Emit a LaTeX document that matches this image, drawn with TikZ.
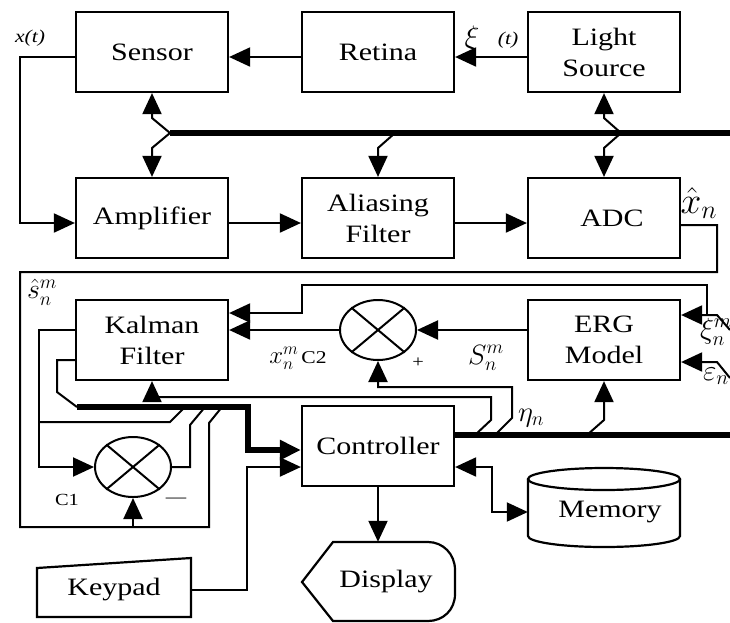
\documentclass[tikz,border=0pt]{standalone}
\usepackage{fontspec}
\setmainfont{Liberation Serif}[FakeStretch=1.2]
\usetikzlibrary{arrows.meta,shapes.geometric}

\begin{document}
\begin{tikzpicture}[x=1pt,y=-1pt,every node/.style={font=\fontsize{25}{31}\selectfont},
  blk/.style={draw,line width=2.2pt,minimum width=152pt,minimum height=80pt,inner sep=0pt,align=center},
  mult/.style={draw,ellipse,line width=2pt,minimum width=76pt,minimum height=60pt,inner sep=0pt},
  wire/.style={line width=2pt},
  arr/.style={wire,-{Triangle[length=21pt,width=19pt]}},
  bus/.style={line width=5.5pt},
  lbl/.style={font=\fontsize{17}{20}\selectfont},
  sym/.style={font=\fontsize{24}{28}\selectfont,inner sep=1pt}]
\useasboundingbox (0,0) rectangle (730,622);
% blocks
\node[blk] (sensor) at (152,52) {Sensor};
\node[blk] (retina) at (378,52) {Retina};
\node[blk] (light) at (604,52) {Light\\Source};
\node[blk] (amp) at (152,218) {Amplifier};
\node[blk] (alias) at (378,218) {Aliasing\\Filter};
\node[blk] (adc) at (604,218) {\hspace*{16pt}ADC};
\node[blk] (kalman) at (152,340) {Kalman\\Filter};
\node[blk] (erg) at (604,340) {ERG\\Model};
\node[blk] (ctrl) at (378,446) {Controller};
\node[mult] (c1) at (133,467) {};
\node[mult] (c2) at (378,330) {};
\node[minimum width=164pt,minimum height=56pt,inner sep=0pt] (memory) at (610,512) {Memory};
\node[minimum width=152pt,minimum height=80pt,inner sep=0pt] (display) at (386,582) {Display};
\node[minimum width=154pt,minimum height=50pt,inner sep=0pt] (keypad) at (114,590) {Keypad};
% odd shapes
\draw[line width=2.2pt] (604,479) ellipse [x radius=76, y radius=11];
\draw[line width=2.2pt] (528,479) -- (528,536) arc[start angle=180,end angle=0,x radius=76,y radius=11] -- (680,479);
\draw[line width=2.2pt] (302,582) -- (333,542) -- (428,542) .. controls (443,542) and (455,554) .. (455,570)
  -- (455,594) .. controls (455,610) and (443,621) .. (428,621) -- (333,621) -- cycle;
\draw[line width=2.2pt] (37,568) -- (191,558) -- (191,617) -- (37,617) -- cycle;
\foreach \m in {c1,c2}{
  \draw[wire] (\m.140) -- (\m.-40);
  \draw[wire] (\m.40) -- (\m.-140);
}
% bus junctions
\coordinate (busA) at (170,133);
\coordinate (busB) at (730,133);
\coordinate (jAl) at (395,133);
\coordinate (jLs) at (621,133);
\coordinate (busC) at (730,435);
\coordinate (jK) at (475,435);
\coordinate (jC2) at (495,435);
\coordinate (jE) at (587,435);
\coordinate (sBus) at (77,407);
\coordinate (xiIn) at (730,330);
\coordinate (epsIn) at (730,378);
% top row
\draw[arr] ([yshift=-5pt]light.west) -- ([yshift=-5pt]retina.east);
\draw[arr] ([yshift=-5pt]retina.west) -- ([yshift=-5pt]sensor.east);
\draw[arr] ([yshift=-5pt]sensor.west) -- (20,57) |- ([yshift=-5pt]amp.west);
\draw[arr] ([yshift=-5pt]amp.east) -- ([yshift=-5pt]alias.west);
\draw[arr] ([yshift=-5pt]alias.east) -- ([yshift=-5pt]adc.west);
\draw[bus] (busA) -- (busB);
\draw[arr] (busA) -- (152,118) -- (sensor.south);
\draw[arr] (busA) -- (152,148) -- (amp.north);
\draw[arr] (jAl) -- (378,148) -- (alias.north);
\draw[arr] (jLs) -- (604,118) -- (light.south);
\draw[arr] (jLs) -- (604,148) -- (adc.north);
% sample loop
\draw[wire] ([yshift=-7pt]adc.east) -- (717,225) -- (717,272) -- (20,272) -- (20,527) -- (209,527) -- (209,423) -- (222,407);
\draw[arr] (133,527) -- (c1.south);
% kalman outputs
\draw[wire] ([yshift=-20pt]kalman.west) -- (57,360) -- (57,392) -- (sBus);
\draw[bus,-{Triangle[length=21pt,width=19pt]}] (sBus) -- (248,407) -- (248,450) -- ([yshift=-4pt]ctrl.west);
\draw[arr] ([yshift=10pt]kalman.west) -- (39,330) |- (c1.west);
\draw[wire] (39,422) -- (170,422) -- (185,407);
\draw[wire] (c1.east) -- (190,467) -- (190,425) -- (205,407);
\draw[arr] (keypad.east) -| (247,467) -- ([yshift=-21pt]ctrl.west);
% controller bus
\draw[bus] ([yshift=11pt]ctrl.east) -- (busC);
\draw[arr] (jK) -- (491,420) -- (491,397) -- (152,397) -- (kalman.south);
\draw[arr] (jC2) -- (512,418) -- (512,387) -- (378,387) -- (c2.south);
\draw[arr] (jE) -- (604,420) -- (erg.south);
\draw[wire,{Triangle[length=21pt,width=19pt]}-{Triangle[length=21pt,width=19pt]}] ([yshift=-21pt]ctrl.east) -- (492,467) |- (memory.west);
\draw[arr] (ctrl.south) -- (ctrl.south |- display.north);
% model loop
\draw[arr] ([yshift=10pt]erg.west) -- (c2.east);
\draw[arr] (c2.west) -- ([yshift=10pt]kalman.east);
\draw[arr] (xiIn) -- (717,315) -- ([yshift=25pt]erg.east);
\draw[arr] (707,315) -- (707,285) -- (302,285) -- (302,313) -- ([yshift=27pt]kalman.east);
\draw[arr] (epsIn) -- (717,362) -- ([yshift=-22pt]erg.east);
% labels
\node[font=\fontsize{18}{20}\selectfont\itshape] (xt) at (30,38) {x(t)};
\node[sym,scale=1.25] (xi) at (472,40) {$\xi$};
\node[font=\fontsize{18}{20}\selectfont\itshape] (tt) at (508,40) {(t)};
\node[sym,scale=1.5] (xhat) at (699,203) {$\hat{x}_n$};
\node[sym,scale=1.12] (shat) at (42,292) {$\hat{s}_n^m$};
\node[sym] (xm) at (298,358) {$x_n^m$\fontsize{18}{20}\selectfont\,C2};
\node[sym,scale=1.12] (sm) at (486,358) {$S_n^m$};
\node[lbl] (plus) at (418,363) {+};
\node[sym,scale=1.15] (eta) at (531,418) {$\eta_n$};
\node[sym,scale=1.17] (xim) at (716,332) {$\xi_n^m$};
\node[sym,scale=1.17] (epsn) at (716,376) {$\varepsilon_n$};
\node[lbl] (c1l) at (67,500) {C1};
\node[lbl] (minus) at (176,500) {\textemdash};
\end{tikzpicture}
\end{document}
